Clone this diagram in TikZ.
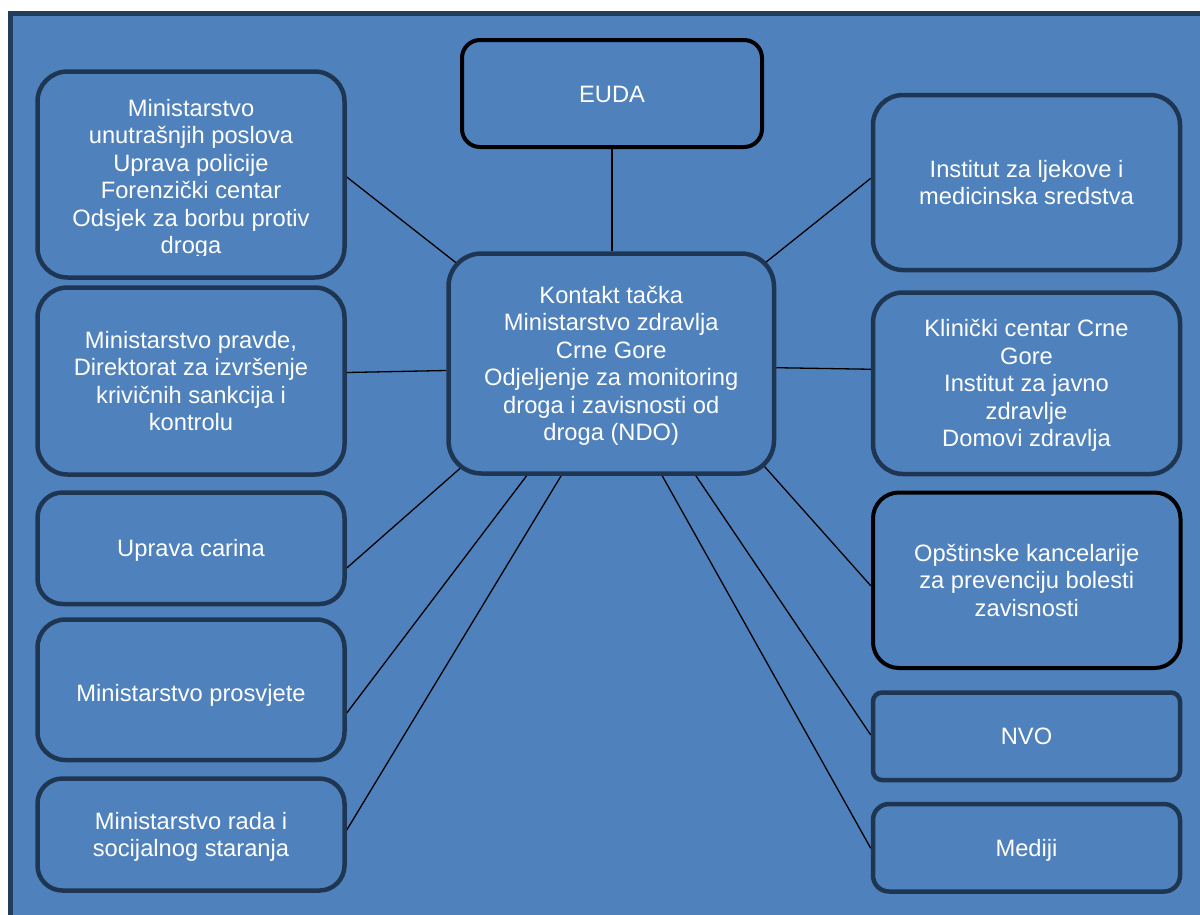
\documentclass[tikz,border=0pt]{standalone}
\usepackage{fontspec}
\setmainfont{Liberation Sans}
\usetikzlibrary{backgrounds}
\definecolor{bgblue}{HTML}{4F81BD}
\definecolor{navy}{HTML}{1F3652}
\definecolor{frame}{HTML}{223C5C}
\newcommand\mlines[1]{\vbox{\baselineskip=27.5pt\lineskiplimit=-100pt\lineskip=0pt\halign{\hfil##\hfil\cr#1\crcr}}}
\begin{document}
\begin{tikzpicture}[x=1pt,y=-1pt,
  box/.style={draw=navy, line width=4.5pt, fill=bgblue, rounded corners=#1, inner sep=0pt,
    text=white, font=\fontsize{23.7pt}{27.5pt}\selectfont, text depth=0pt},
  blackbox/.style={box=#1, draw=black, line width=4pt},
  conn/.style={line width=1.3pt, black}]
\useasboundingbox (0,0) rectangle (1200,914);

% left column
\node[box=30, minimum width=307pt, minimum height=206pt, text height=17pt] (mup) at (191,174.5) {};
\begin{scope}
\clip (0,0) rectangle (1200,255.5);
\node[box=0, draw=none, fill=none, text height=154.5pt] (muptext) at (191,176.5)
  {\mlines{Ministarstvo\cr unutrašnjih poslova\cr Uprava policije\cr Forenzički centar\cr Odsjek za borbu protiv\cr droga}};
\end{scope}
\node[box=30, minimum width=307pt, minimum height=187pt, text height=99.5pt] (prav) at (191,381)
  {\mlines{Ministarstvo pravde,\cr Direktorat za izvršenje\cr krivičnih sankcija i\cr kontrolu}};
\node[box=25, minimum width=307pt, minimum height=111.5pt, text height=17pt] (car) at (191,548.25)
  {\mlines{Uprava carina}};
\node[box=28, minimum width=307pt, minimum height=140.5pt, text height=22.5pt] (pros) at (191,689.75)
  {\mlines{Ministarstvo prosvjete}};
\node[box=25, minimum width=307pt, minimum height=112pt, text height=44.5pt] (rada) at (191,834.5)
  {\mlines{Ministarstvo rada i\cr socijalnog staranja}};

% centre column
\node[blackbox=18, minimum width=300pt, minimum height=107pt, text height=17pt] (euda) at (612,93.5)
  {\mlines{EUDA}};
\node[box=33, minimum width=325.5pt, minimum height=220pt, text height=154.5pt] (ndo) at (611.25,363.5)
  {\mlines{Kontakt tačka\cr Ministarstvo zdravlja\cr Crne Gore\cr Odjeljenje za monitoring\cr droga i zavisnosti od\cr droga (NDO)}};

% right column
\node[box=30, minimum width=307pt, minimum height=175pt, text height=44.5pt] (inst) at (1026.5,182.5)
  {\mlines{Institut za ljekove i\cr medicinska sredstva}};
\node[box=30, minimum width=307pt, minimum height=181.5pt, text height=127pt] (klin) at (1026.5,383.25)
  {\mlines{Klinički centar Crne\cr Gore\cr Institut za javno\cr zdravlje\cr Domovi zdravlja}};
\node[blackbox=26, minimum width=307.5pt, minimum height=175.5pt, text height=72pt] (ops) at (1026.75,580.25)
  {\mlines{Opštinske kancelarije\cr za prevenciju bolesti\cr zavisnosti}};
\node[box=9, minimum width=307pt, minimum height=87.5pt, text height=17pt] (nvo) at (1026.5,736.25)
  {\mlines{NVO}};
\node[box=16, minimum width=307pt, minimum height=87.5pt, text height=17pt] (med) at (1026.5,847.75)
  {\mlines{Mediji}};

\begin{pgfonlayer}{background}
\fill[white] (0,0) rectangle (1200,914);
\draw[frame, line width=5pt, fill=bgblue] (10,13.5) rectangle (1220,930);
% connectors
\draw[conn] (euda.south) -- (euda.south |- ndo.north);
\draw[conn] ([yshift=-2.5pt]mup.east) -- ([xshift=11.7pt,yshift=-13pt]ndo.north west);
\draw[conn] ([yshift=8.5pt]prav.east) -- ([yshift=-7pt]ndo.west);
\draw[conn] ([yshift=-19.75pt]car.east) -- ([xshift=14.5pt,yshift=8pt]ndo.south west);
\draw[conn] ([yshift=-23.25pt]pros.east) -- ([xshift=-82pt,yshift=3.5pt]ndo.south);
\draw[conn] ([yshift=4.5pt]rada.east) -- ([xshift=-48pt,yshift=3.5pt]ndo.south);
\draw[conn] ([yshift=4.2pt]inst.west) -- ([xshift=-11pt,yshift=-11.5pt]ndo.north east);
\draw[conn] ([yshift=14pt]klin.west) -- ([yshift=-4.2pt]ndo.east);
\draw[conn] ([yshift=-5.75pt]ops.west) -- ([xshift=-13.7pt,yshift=11.5pt]ndo.south east);
\draw[conn] ([yshift=1.25pt]nvo.west) -- ([xshift=82.3pt,yshift=3.5pt]ndo.south);
\draw[conn] ([yshift=-0.5pt]med.west) -- ([xshift=49pt,yshift=3.5pt]ndo.south);
\end{pgfonlayer}
\end{tikzpicture}
\end{document}
